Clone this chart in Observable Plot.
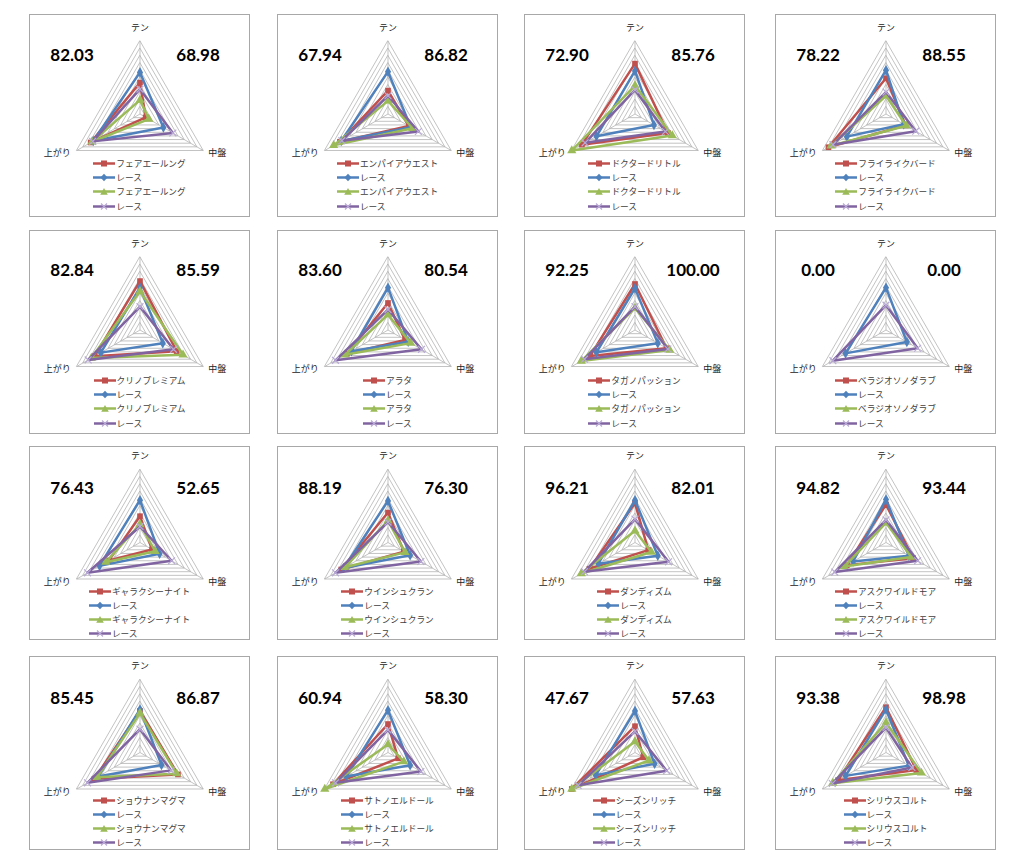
<!DOCTYPE html>
<html><head><meta charset="utf-8">
<script src="https://cdn.jsdelivr.net/npm/d3@7"></script>
<script src="https://cdn.jsdelivr.net/npm/@observablehq/plot@0.6"></script>
<style>
html,body{margin:0;padding:0;background:#fff;}
body{width:1024px;height:866px;position:relative;overflow:hidden;font-family:"Noto Sans CJK JP","Noto Sans",sans-serif;}
.panel{position:absolute;border:1px solid #a8a8a8;box-sizing:border-box;background:#fff;}
.panel svg.plot{position:absolute;left:0;top:0;}
.legend{position:absolute;left:0;right:0;display:flex;justify-content:center;}
.legend .inner{display:flex;flex-direction:column;}
.legend .item{display:flex;align-items:center;font-size:8.7px;color:#404040;white-space:nowrap;}
.legend .item svg{margin-right:1px;}
</style></head>
<body>
<div id="root"></div>
<script>
// ---- data ----
const axes = ["テン", "中盤", "上がり"];
const horses = ["フェアエールング","エンパイアウエスト","ドクタードリトル","フライライクバード",
  "クリノプレミアム","アラタ","タガノパッション","ベラジオソノダラブ",
  "ギャラクシーナイト","ウインシュクラン","ダンディズム","アスクワイルドモア",
  "ショウナンマグマ","サトノエルドール","シーズンリッチ","シリウスコルト"];
const raceLabel = "レース";
const leftScores = ["82.03","67.94","72.90","78.22","82.84","83.60","92.25","0.00",
  "76.43","88.19","96.21","94.82","85.45","60.94","47.67","93.38"];
const rightScores = ["68.98","86.82","85.76","88.55","85.59","80.54","100.00","0.00",
  "52.65","76.30","82.01","93.44","86.87","58.30","57.63","98.98"];
// values per panel: [テン, 中盤, 上がり]
const horseA = [[43,9,78],[32,33,76],[69,52,84],[49,31,91],[67,58,72],[37,27,65],[63,50,71],null,
  [36,19,49],[41,25,74],[54,21,72],[52,43,62],[57,60,72],[39,16,87],[36,13,100],[62,48,76]];
const raceA = [[57,37,74],[58,36,74],[59,30,61],[60,28,62],[58,36,62],[58,32,58],[57,36,61],[58,33,64],
  [58,31,64],[57,35,70],[58,36,58],[59,36,52],[59,34,66],[58,35,66],[57,31,62],[59,36,64]];
const horseB = [[19,14,76],[18,39,86],[39,59,100],[25,32,87],[53,68,77],[21,36,68],[30,55,85],null,
  [25,24,54],[30,27,68],[16,26,85],[27,40,66],[54,58,68],[11,25,100],[15,22,100],[41,56,84]];
const raceB = [[34,52,75],[25,48,73],[33,48,79],[30,47,84],[32,53,82],[28,53,83],[32,52,80],[34,50,84],
  [22,50,83],[28,52,83],[32,53,80],[31,50,81],[32,49,83],[31,52,83],[29,50,90],[34,41,85]];
const ringLevels = [10,20,30,40,50,60,70,80,90,100];

// ---- layout / style ----
const colLefts = [29, 277, 524, 775];
const rowTops = [14, 230, 446, 656];
const rowHeights = [203, 204, 194, 194];
const rowCenters = [99.5, 99.5, 96, 96];
const rowLegend = [149, 150, 145, 144];
const rowNumY = [41, 40, 42, 42];
const PW = 221, R = 73;
const angleDeg = [90, -30, 210];
const seriesStyle = [
  {color:"#C0504D", symbol:"square", r:3.2, mfill:"#C0504D", mstroke:"none"},
  {color:"#4F81BD", symbol:"diamond", r:3.2, mfill:"#4F81BD", mstroke:"none"},
  {color:"#9BBB59", symbol:"triangle", r:3.4, mfill:"#9BBB59", mstroke:"none"},
  {color:"#8064A2", symbol:"times", r:3.2, mfill:"none", mstroke:"#b9aad6"}
];

function pt(v, j){ const a = angleDeg[j]*Math.PI/180; return {x: v*Math.cos(a), y: v*Math.sin(a)}; }

function legendSwatch(k){
  const s = seriesStyle[k];
  let m = "";
  if (k===0) m = `<rect x="8" y="1.5" width="6" height="6" fill="${s.color}"/>`;
  if (k===1) m = `<path d="M11 0.8 L14.5 4.5 L11 8.2 L7.5 4.5Z" fill="${s.color}"/>`;
  if (k===2) m = `<path d="M11 1 L14.8 7.8 L7.2 7.8Z" fill="${s.color}"/>`;
  if (k===3) m = `<path d="M8 1.5 L14 7.5 M14 1.5 L8 7.5" stroke="#b9aad6" stroke-width="1.2"/>`;
  return `<svg width="22" height="9"><line x1="0" y1="4.5" x2="22" y2="4.5" stroke="${s.color}" stroke-width="2.5"/>${m}</svg>`;
}

const root = document.getElementById("root");
for (let i = 0; i < 16; i++) {
  const row = Math.floor(i/4), col = i % 4;
  const H = rowHeights[row];
  const W = PW - 2, Hi = H - 2;
  const cx = W/2, cy = rowCenters[row] - 1;
  const k = R/100;

  const div = document.createElement("div");
  div.className = "panel";
  div.style.left = colLefts[col] + "px";
  div.style.top = rowTops[row] + "px";
  div.style.width = PW + "px";
  div.style.height = H + "px";

  const ringPts = [];
  ringLevels.forEach(L => axes.forEach((a, j) => ringPts.push({ring: L, ...pt(L, j)})));
  const spokes = axes.map((a, j) => ({name: a, j, ...pt(100, j)}));

  const seriesVals = [horseA[i], raceA[i], horseB[i], raceB[i]];
  const seriesMarks = [];
  seriesVals.forEach((vals, s) => {
    if (!vals) return;
    const pts = vals.map((v, j) => pt(v, j));
    const st = seriesStyle[s];
    seriesMarks.push(Plot.line(pts, {x: "x", y: "y", curve: "linear-closed", stroke: st.color, strokeWidth: 2.5, strokeLinejoin: "round"}));
    seriesMarks.push(Plot.dot(pts, {x: "x", y: "y", symbol: () => st.symbol, r: st.r, fill: st.mfill, stroke: st.mstroke, strokeWidth: 1.2}));
  });

  const chart = Plot.plot({
    width: W, height: Hi, margin: 0,
    x: {type: "linear", domain: [-cx/k, cx/k], range: [0, W], axis: null},
    y: {type: "linear", domain: [-(Hi - cy)/k, cy/k], range: [Hi, 0], axis: null},
    style: {fontFamily: '"Noto Sans CJK JP", sans-serif', fontSize: "9px", color: "#222", background: "transparent", overflow: "visible"},
    marks: [
      Plot.line(ringPts, {x: "x", y: "y", z: "ring", curve: "linear-closed", stroke: "#b4b4b4", strokeWidth: 0.8}),
      Plot.link(spokes, {x1: () => 0, y1: () => 0, x2: "x", y2: "y", stroke: "#b4b4b4", strokeWidth: 0.8}),
      Plot.text(spokes.filter(d => d.j === 0), {x: "x", y: "y", text: "name", dy: -13, textAnchor: "middle", fill: "#222"}),
      Plot.text(spokes.filter(d => d.j === 1), {x: "x", y: "y", text: "name", dx: 5, dy: 3, textAnchor: "start", fill: "#222"}),
      Plot.text(spokes.filter(d => d.j === 2), {x: "x", y: "y", text: "name", dx: -6, dy: 3, textAnchor: "end", fill: "#222"}),
      ...seriesMarks,
      Plot.text([leftScores[i]], {frameAnchor: "top-left", dx: 41.5, dy: rowNumY[row] - 1, text: d => d, textAnchor: "middle", lineAnchor: "middle", fontFamily: "Lato", fontWeight: "bold", fontSize: 17, fill: "#000"}),
      Plot.text([rightScores[i]], {frameAnchor: "top-left", dx: 167.5, dy: rowNumY[row] - 1, text: d => d, textAnchor: "middle", lineAnchor: "middle", fontFamily: "Lato", fontWeight: "bold", fontSize: 17, fill: "#000"})
    ]
  });
  chart.classList.add("plot");
  div.appendChild(chart);

  const leg = document.createElement("div");
  leg.className = "legend";
  leg.style.top = (rowLegend[row] - 1 - 7) + "px";
  const labels = [horses[i], raceLabel, horses[i], raceLabel];
  const lineH = row < 2 ? 14.4 : 14.2;
  leg.innerHTML = `<div class="inner">` + labels.map((t, s) =>
    `<div class="item" style="height:${lineH}px">${legendSwatch(s)}<span>${t}</span></div>`).join("") + `</div>`;
  div.appendChild(leg);

  root.appendChild(div);
}
</script>
</body></html>
